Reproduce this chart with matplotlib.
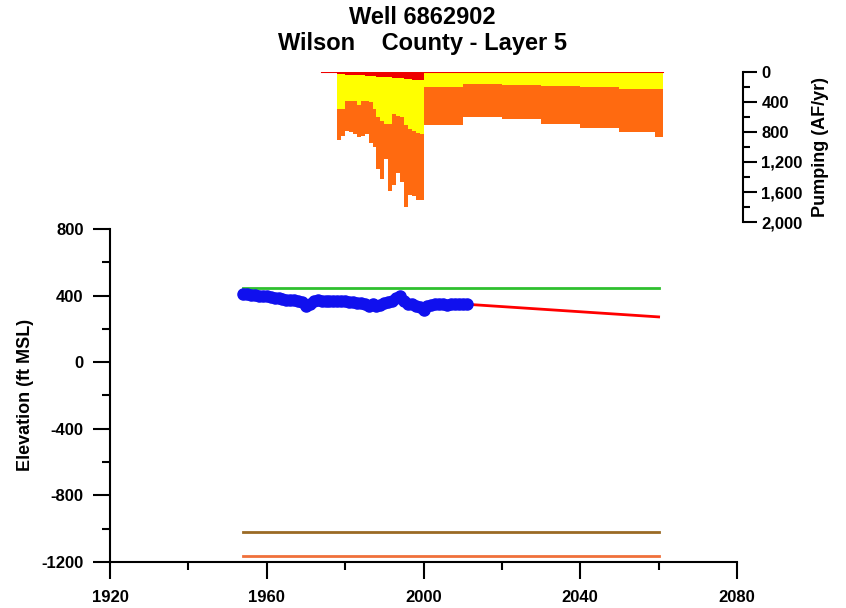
import matplotlib.pyplot as plt
import numpy as np
from matplotlib.ticker import MultipleLocator, StrMethodFormatter

plt.rcParams['font.family'] = ['Liberation Sans', 'DejaVu Sans']
plt.rcParams['font.weight'] = 'bold'
plt.rcParams['axes.unicode_minus'] = False

# observed water levels (ft MSL)
obs_years = [1954, 1955, 1956, 1957, 1958, 1959, 1960, 1961, 1962, 1963, 1964, 1965,
             1966, 1967, 1968, 1969, 1970, 1971, 1972, 1973, 1974, 1975, 1976, 1977,
             1978, 1979, 1980, 1981, 1982, 1983, 1984, 1985, 1986, 1987, 1988, 1989,
             1990, 1991, 1992, 1993, 1994, 1995, 1996, 1997, 1998, 1999, 2000, 2001,
             2002, 2003, 2004, 2005, 2006, 2007, 2008, 2009, 2010, 2011]
obs_elev = [410, 408, 405, 403, 400, 398, 395, 392, 385, 388, 380, 376,
            372, 375, 368, 360, 340, 352, 365, 372, 368, 370, 365, 368,
            370, 368, 365, 360, 362, 358, 355, 352, 340, 350, 335, 345,
            355, 362, 370, 388, 395, 370, 352, 348, 340, 330, 315, 340,
            345, 350, 348, 352, 345, 350, 352, 350, 352, 350]

# simulated head after the observations
sim_years = [2011, 2060]
sim_elev = [348, 272]

# land surface, layer top and bottom
surf_years = [1954, 2060]
surf_elev = [445, 445]
top_elev = [-1022, -1022]
bot_elev = [-1162, -1162]

# pumping (AF/yr), step intervals starting at each year
pump_years = [1974, 1975, 1976, 1977, 1978, 1979, 1980, 1981, 1982, 1983, 1984, 1985,
              1986, 1987, 1988, 1989, 1990, 1991, 1992, 1993, 1994, 1995, 1996, 1997,
              1998, 1999, 2000, 2010, 2020, 2030, 2040, 2050, 2059, 2061]
pump_red = [0, 0, 0, 0, 30, 30, 35, 35, 40, 40, 45, 50,
            50, 55, 60, 60, 65, 70, 75, 80, 85, 90, 95, 100,
            100, 100, 10, 10, 10, 10, 10, 10, 10, 10]
pump_yellow = [0, 0, 0, 0, 460, 460, 345, 345, 340, 400, 345, 340,
               350, 435, 540, 590, 625, 620, 485, 500, 515, 610, 665, 680,
               710, 720, 190, 150, 165, 180, 195, 210, 215, 215]
pump_orange = [0, 0, 0, 0, 421, 360, 400, 420, 450, 430, 460, 430,
               550, 510, 690, 770, 470, 890, 940, 760, 870, 1100, 880, 870,
               890, 890, 510, 440, 455, 500, 535, 580, 640, 640]

fig = plt.figure(figsize=(8.46, 6.08), dpi=100)

# main elevation panel
ax = fig.add_axes([110 / 846, 46 / 608, 627 / 846, 333 / 608])
ax.plot(surf_years, top_elev, color='#9a6a25', lw=2)
ax.plot(surf_years, bot_elev, color='#f0703a', lw=2)
ax.plot(surf_years, surf_elev, color='#2fc02f', lw=2)
ax.plot(sim_years, sim_elev, color='red', lw=2)
ax.plot(obs_years, obs_elev, color='#1010ee', lw=5, marker='o', ms=8)

ax.set_xlim(1920, 2080)
ax.set_ylim(-1200, 800)
ax.xaxis.set_major_locator(MultipleLocator(40))
ax.xaxis.set_minor_locator(MultipleLocator(20))
ax.yaxis.set_major_locator(MultipleLocator(400))
ax.yaxis.set_minor_locator(MultipleLocator(200))
for s in ['top', 'right']:
    ax.spines[s].set_visible(False)
for s in ['left', 'bottom']:
    ax.spines[s].set_linewidth(1.5)
ax.tick_params(which='major', length=12, width=1.5, labelsize=12)
ax.tick_params(which='minor', length=6, width=1.5)
ax.tick_params(axis='y', which='major', pad=7)
ax.tick_params(axis='x', which='major', pad=8)
ax.set_facecolor('none')

fig.text(25 / 846, 1 - 395 / 608, 'Elevation (ft MSL)', rotation=90,
         ha='center', va='center', fontsize=13, fontweight='bold')

# pumping panel (inverted)
axp = fig.add_axes([110 / 846, 386 / 608, 627 / 846, 150 / 608])
cum1 = np.array(pump_red)
cum2 = cum1 + np.array(pump_yellow)
cum3 = cum2 + np.array(pump_orange)
axp.fill_between(pump_years, cum2, cum3, step='post', color='#ff6a10', lw=0)
axp.fill_between(pump_years, cum1, cum2, step='post', color='#ffff00', lw=0)
axp.fill_between(pump_years, 0, cum1, step='post', color='#ee0000', lw=0)
axp.plot(pump_years, np.zeros(len(pump_years)), color='#ee0000', lw=1.5)

axp.set_xlim(1920, 2080)
axp.set_ylim(2000, 0)
axp.patch.set_visible(False)
for s in ['top', 'left', 'bottom']:
    axp.spines[s].set_visible(False)
axp.spines['right'].set_position(('axes', 1.01))
axp.spines['right'].set_linewidth(1.5)
axp.set_xticks([])
axp.yaxis.tick_right()
axp.yaxis.set_major_locator(MultipleLocator(400))
axp.yaxis.set_minor_locator(MultipleLocator(200))
axp.yaxis.set_major_formatter(StrMethodFormatter('{x:,.0f}'))
axp.tick_params(axis='y', which='major', length=10, width=1.5, labelsize=12, pad=3)
axp.tick_params(axis='y', which='minor', length=5, width=1.5)

fig.text(820 / 846, 1 - 147 / 608, 'Pumping (AF/yr)', rotation=90,
         ha='center', va='center', fontsize=13, fontweight='bold')

fig.text(422 / 846, 1 - 6 / 608, 'Well 6862902\nWilson    County - Layer 5',
         ha='center', va='top', fontsize=17, fontweight='bold', linespacing=1.15)

fig.savefig('out.png', dpi=100)
